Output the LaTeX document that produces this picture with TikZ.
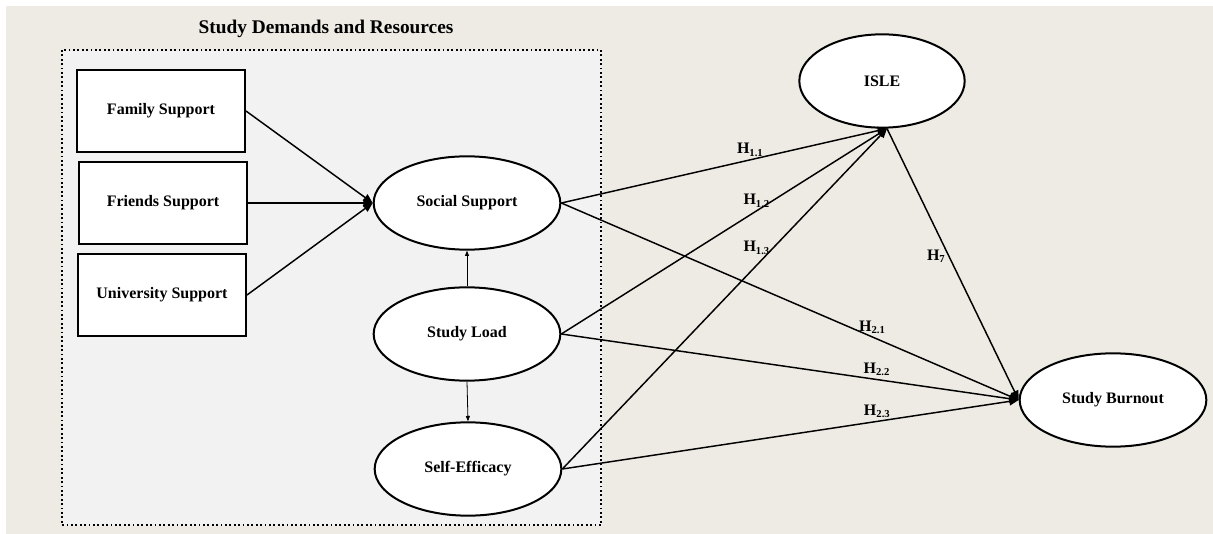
\documentclass[tikz,border=0pt]{standalone}
\usepackage{fontspec}
\setmainfont{Liberation Serif}
\usetikzlibrary{arrows.meta,shapes.geometric}
\definecolor{paper}{RGB}{238,235,228}
\definecolor{panel}{RGB}{242,242,242}
\tikzset{
  var/.style={draw,line width=1.5pt,fill=white,minimum width=126pt,minimum height=61pt,font=\bfseries\fontsize{12}{14}\selectfont},
  latent/.style={draw,ellipse,line width=1.5pt,fill=white,minimum width=140pt,minimum height=70pt,font=\bfseries\fontsize{12}{14}\selectfont},
  path/.style={line width=1.1pt,-{Triangle[length=7pt,width=6pt]}},
  thin/.style={line width=0.6pt,-{Triangle[length=4pt,width=3pt]}},
  hyp/.style={font=\bfseries\fontsize{12}{14}\selectfont,inner sep=2pt}
}
\newcommand{\hyp}[1]{H\textsubscript{\textbf{#1}}}
\begin{document}
\begin{tikzpicture}[x=0.75pt,y=-0.75pt]
\useasboundingbox (0,0) rectangle (1213,534);
\fill[paper] (6,6) rectangle (1213,534);
% study demands and resources panel
\draw[panel,fill=panel] (62,50) rectangle (601,525);
\draw[line width=1.3pt,dotted] (62,50) rectangle (601,525);
\node[font=\bfseries\fontsize{14.5}{17}\selectfont] (title) at (326,29) {Study Demands and Resources};
\node[var] (family) at (161,111) {Family Support};
\node[var] (friends) at (163,203) {Friends Support};
\node[var] (univ) at (162,295) {University Support};
\node[latent] (social) at (467,203) {Social Support};
\node[latent] (load) at (467,334) {Study Load};
\node[latent] (efficacy) at (468,469) {Self-Efficacy};
\node[latent,minimum width=124pt] (isle) at (882,81) {ISLE};
\node[latent] (burnout) at (1113,400) {Study Burnout};
% second order factor
\draw[path] (family.east) -- (social.west);
\draw[path] (friends.east) -- (social.west);
\draw[path] (univ.east) -- (social.west);
\draw[thin] (load.north) -- (social.south);
\draw[thin] (load.south) -- (efficacy.north);
% hypotheses
\draw[path] (social.east) -- node[pos=.58,above,hyp]{\hyp{1.1}} (isle.-84);
\draw[path] (load.east) -- node[pos=.6,above,hyp]{\hyp{1.2}} (isle.-84);
\draw[path] (efficacy.east) -- node[pos=.65,left,hyp]{\hyp{1.3}} (isle.-84);
\draw[path] (isle.-84) -- node[pos=.47,left,hyp]{\hyp{7}} (burnout.west);
\draw[path] (social.east) -- node[pos=.68,above,hyp]{\hyp{2.1}} (burnout.west);
\draw[path] (load.east) -- node[pos=.69,above,hyp]{\hyp{2.2}} (burnout.west);
\draw[path] (efficacy.east) -- node[pos=.69,above,hyp]{\hyp{2.3}} (burnout.west);
\end{tikzpicture}
\end{document}
